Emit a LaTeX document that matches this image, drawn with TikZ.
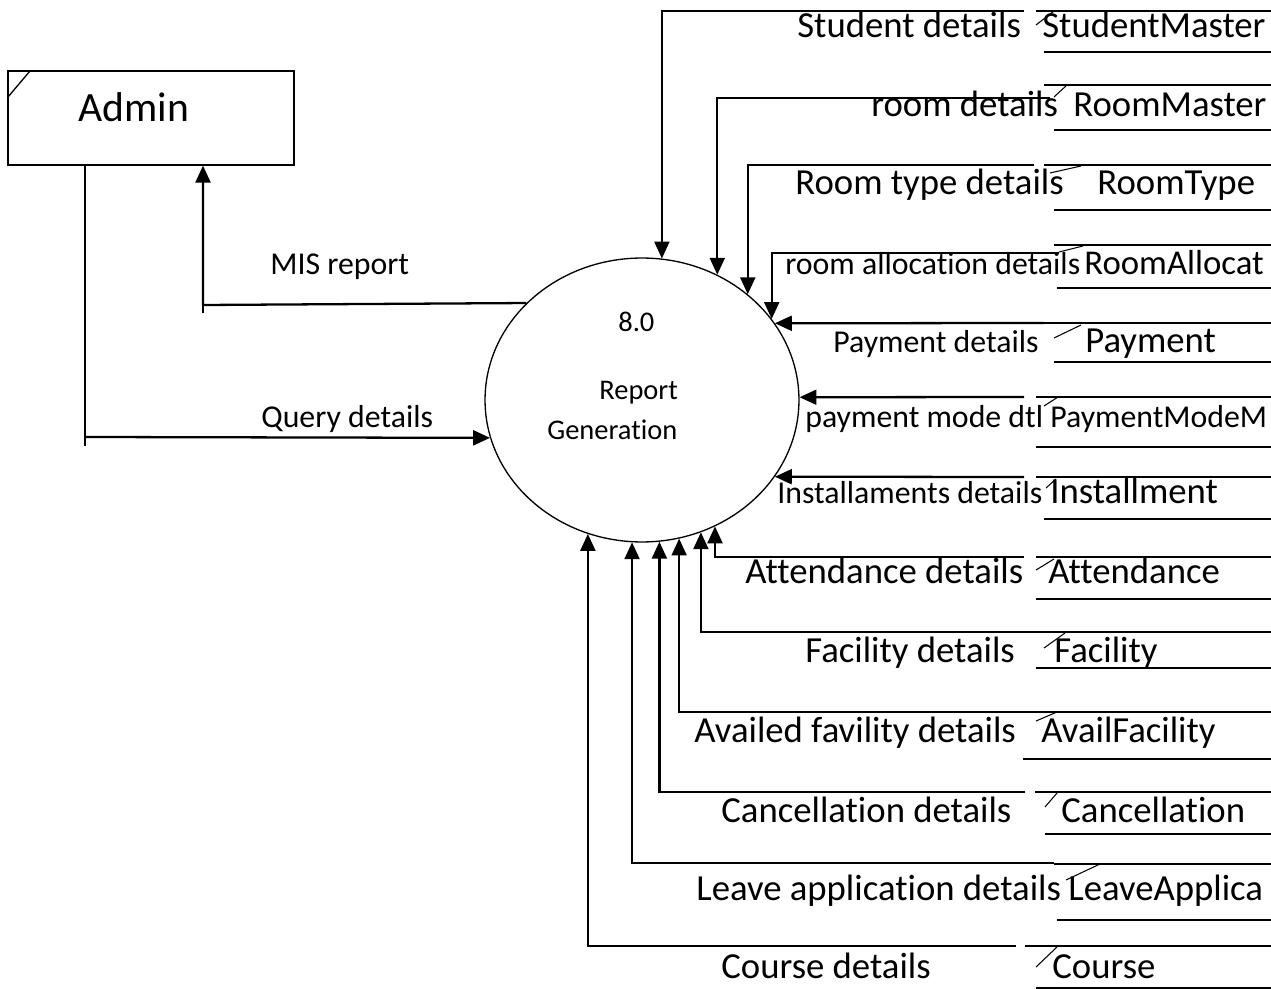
\documentclass[tikz,border=0pt]{standalone}
\usepackage{fontspec}
\setmainfont{Carlito}[Ligatures=NoCommon]
\usetikzlibrary{arrows.meta,shapes.geometric}
\begin{document}
\begin{tikzpicture}[x=0.02cm,y=-0.02cm,
  conn/.style={line width=1.3pt},
  flow/.style={line width=1.3pt,-{Triangle[length=9.6pt,width=8.5pt]}},
  sline/.style={line width=1.1pt},
  tickl/.style={line width=0.6pt},
  big/.style={font=\fontsize{20.9}{25}\selectfont,inner sep=0pt,anchor=base west},
  small/.style={font=\fontsize{18.1}{22}\selectfont,inner sep=0pt,anchor=base west},
  ptext/.style={font=\fontsize{16.2}{20}\selectfont,inner sep=0pt,anchor=base west}]
\useasboundingbox (0,0) rectangle (1271,989);

% process
\node[ellipse,draw,line width=0.75pt,minimum width=6.28cm,minimum height=5.68cm,inner sep=0pt] (c) at (642,400) {};
\node[ptext] (pnum) at (618,332) {8.0};
\node[ptext] (pname1) at (599,400) {Report};
\node[ptext] (pname2) at (547,440) {Generation};

% external entity
\node[draw,line width=0.75pt,minimum width=5.72cm,minimum height=1.88cm,inner sep=0pt] (admin) at (151,118) {};
\draw[line width=0.75pt] (8,97) -- (30,71);
\node[font=\fontsize{23.7}{28}\selectfont,inner sep=0pt,anchor=base west] (admintxt) at (78,122) {Admin};

% Query details
\coordinate (q0) at (85,165);
\coordinate (qe) at (85,446);
\coordinate (qc) at (85,437);
\draw[conn] (q0) -- (qe);
\draw[flow] (qc) -- (c.-166.28);
\node[small] (lq) at (261,428) {Query details};

% MIS report
\coordinate (mc) at (203,305);
\coordinate (me) at (203,313);
\draw[flow] (c.140.86) -- (mc) -- (admin.south -| mc);
\draw[conn] (mc) -- (me);
\node[small] (lm) at (270,275) {MIS report};

% 1 StudentMaster
\draw[sline] (1036,11) -- (1271,11);
\draw[sline] (1044,52) -- (1271,52);
\draw[tickl] (1036,25) -- (1054,11);
\node[big] (s1) at (1042,38) {StudentMaster};
\coordinate (a1) at (1024,11);
\draw[flow] (a1) -| (c.82.73);
\node[big] (l1) at (797,38) {Student details};

% 2 RoomMaster
\draw[sline] (1044,85) -- (1271,85);
\draw[sline] (1054,130) -- (1271,130);
\draw[tickl] (1054,97) -- (1067,85);
\node[big] (s2) at (1073,117) {RoomMaster};
\node[big] (l2) at (871,117) {room details};
\coordinate (a2) at (1050,98);
\draw[flow] (a2) -| (c.59.42);

% 3 RoomType
\draw[sline] (1044,165) -- (1271,165);
\draw[sline] (1054,210) -- (1271,210);
\draw[tickl] (1050,173) -- (1081,166);
\node[big] (s3) at (1097,195) {RoomType};
\node[big] (l3) at (795,195) {Room type details};
\coordinate (a3) at (1034,165);
\draw[flow] (a3) -| (c.45.16);

% 4 RoomAllocation
\draw[sline] (1054,245) -- (1271,245);
\draw[sline] (1057,288) -- (1271,288);
\draw[tickl] (1059,252) -- (1083,246);
\node[font=\fontsize{19.8}{24}\selectfont,inner sep=0pt,anchor=base west] (s4) at (1084,275) {RoomAllocat};
\node[small] (l4) at (785,275) {room allocation details};
\coordinate (a4) at (1059,253);
\draw[flow] (a4) -| (c.32.71);

% 5 Payment
\draw[sline] (1044,323) -- (1271,323);
\draw[sline] (1054,362) -- (1271,362);
\draw[tickl] (1054,338) -- (1081,325);
\node[big] (s5) at (1085,353) {Payment};
\node[small] (l5) at (833,353) {Payment details};
\coordinate (a5) at (1044,323);
\draw[flow] (a5) -- (c.30.27);

% 6 PaymentModeMaster
\draw[sline] (1036,397) -- (1271,397);
\draw[sline] (1036,447) -- (1271,447);
\draw[tickl] (1044,406) -- (1058,397);
\node[small] (s6) at (1050,428) {PaymentModeM};
\node[small] (l6) at (805,428) {payment mode dtl};
\coordinate (a6) at (1024,397);
\draw[flow] (a6) -- (c.1.09);

% 7 Installment
\draw[sline] (1036,477) -- (1271,477);
\draw[sline] (1044,519) -- (1271,519);
\draw[tickl] (1046,488) -- (1056,479);
\node[big] (s7) at (1050,503) {Installment};
\node[small] (l7) at (777,503) {Installaments details};
\coordinate (a7) at (1024,477);
\draw[flow] (a7) -- (c.-30.27);

% 8 Attendance
\draw[sline] (1036,557) -- (1271,557);
\draw[sline] (1036,599) -- (1271,599);
\draw[tickl] (1036,570) -- (1054,559);
\node[big] (s8) at (1048,583) {Attendance};
\node[big] (l8) at (745,583) {Attendance details};
\coordinate (a8) at (1024,557);
\draw[flow] (a8) -| (c.-60.3);

% 9 Facility
\draw[sline] (1024,632) -- (1271,632);
\draw[sline] (1036,668) -- (1271,668);
\draw[tickl] (1044,648) -- (1065,633);
\node[big] (s9) at (1054,662) {Facility};
\node[big] (l9) at (805,662) {Facility details};
\coordinate (a9) at (1024,632);
\draw[flow] (a9) -| (c.-66.28);

% 10 AvailFacility
\draw[sline] (1025,712) -- (1271,712);
\draw[sline] (1023,759) -- (1271,759);
\draw[tickl] (1036,721) -- (1057,712);
\node[big] (s10) at (1041,742) {AvailFacility};
\node[big] (l10) at (694,742) {Availed favility details};
\coordinate (a10) at (1025,712);
\draw[flow] (a10) -| (c.-75.81);

% 11 Cancellation
\draw[sline] (1035,792) -- (1271,792);
\draw[sline] (1045,834) -- (1271,834);
\draw[tickl] (1045,807) -- (1057,793);
\node[big] (s11) at (1061,822) {Cancellation};
\node[big] (l11) at (721,822) {Cancellation details};
\coordinate (a11) at (1025,792);
\draw[flow] (a11) -| (c.-83.14);

% 12 LeaveApplication
\draw[sline] (1054,864) -- (1271,864);
\draw[sline] (1057,920) -- (1271,920);
\draw[tickl] (1066,880) -- (1100,864);
\node[big] (s12) at (1068,900) {LeaveApplica};
\node[big] (l12) at (696,900) {Leave application details};
\coordinate (a12) at (1054,863);
\draw[flow] (a12) -| (c.-94.04);

% 13 Course
\draw[sline] (1025,946) -- (1271,946);
\draw[sline] (1036,988) -- (1271,988);
\draw[tickl] (1036,967) -- (1057,947);
\node[big] (s13) at (1052,978) {Course};
\node[big] (l13) at (721,978) {Course details};
\coordinate (a13) at (1016,946);
\draw[flow] (a13) -| (c.-112.05);
\end{tikzpicture}
\end{document}
